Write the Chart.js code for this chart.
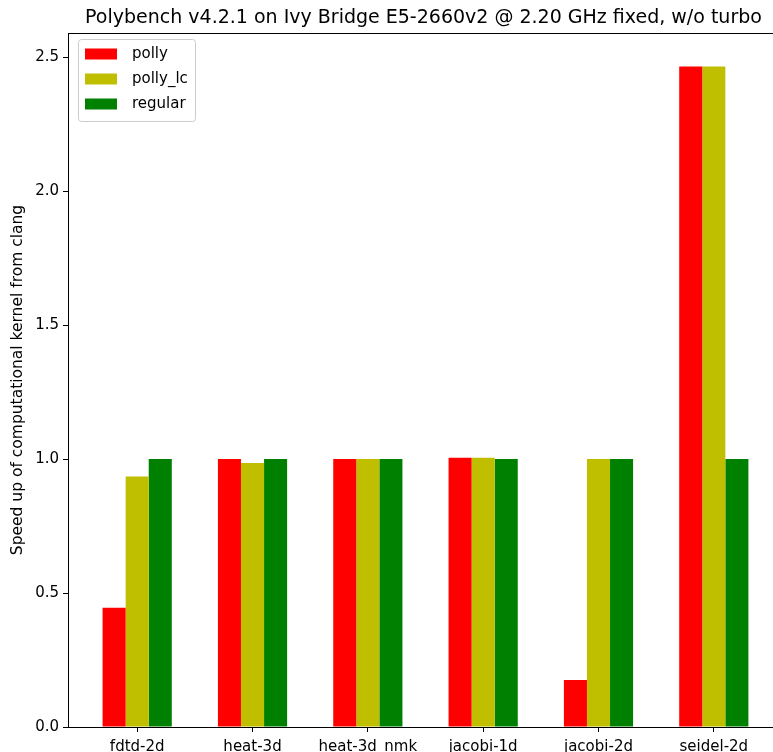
<!DOCTYPE html>
<html>
<head>
<meta charset="utf-8">
<script src="https://cdn.jsdelivr.net/npm/chart.js@4.4.0/dist/chart.umd.min.js"></script>
<style>
  html, body { margin: 0; padding: 0; background: #fff; overflow: hidden; }
  #wrap { width: 773px; height: 752px; overflow: hidden; }
</style>
</head>
<body>
<div id="wrap"><canvas id="speedupChart" width="790" height="770"></canvas></div>
<script>
// Speedup numbers per kernel, relative to plain clang
const titleText = 'Polybench v4.2.1 on Ivy Bridge E5-2660v2 @ 2.20 GHz fixed, w/o turbo';
const kernels = ['fdtd-2d', 'heat-3d', 'heat-3d_nmk', 'jacobi-1d', 'jacobi-2d', 'seidel-2d'];
const pollySpeedup = [0.445, 1.0, 1.0, 1.005, 0.175, 2.465];
const pollyLcSpeedup = [0.935, 0.985, 1.0, 1.005, 1.0, 2.465];
const regularSpeedup = [1.0, 1.0, 1.0, 1.0, 1.0, 1.0];
const yTicks = [0.0, 0.5, 1.0, 1.5, 2.0, 2.5];
const yMax = 2.59;

const FONT = '"DejaVu Sans", sans-serif';

function toPoints(values) {
    return values.map((v, i) => ({ x: i, y: v }));
}

// Title, full frame and the boxed legend inside the plot
const framePlugin = {
    id: 'frame',
    afterDraw(chart) {
        const ctx = chart.ctx;
        const a = chart.chartArea;
        ctx.save();

        ctx.strokeStyle = '#000';
        ctx.lineWidth = 1;
        ctx.strokeRect(Math.round(a.left) + 0.5, Math.round(a.top) + 0.5,
            Math.round(a.right - a.left), Math.round(a.bottom - a.top));

        ctx.fillStyle = '#000';
        ctx.font = '19px ' + FONT;
        ctx.textAlign = 'center';
        ctx.textBaseline = 'middle';
        ctx.fillText(titleText, (a.left + a.right) / 2 - 2, a.top - 15);

        // legend
        const bx = a.left + 10, by = a.top + 6;
        ctx.beginPath();
        ctx.roundRect(bx + 0.5, by + 0.5, 117, 82, 3);
        ctx.fillStyle = 'rgba(255,255,255,0.8)';
        ctx.fill();
        ctx.strokeStyle = '#cccccc';
        ctx.stroke();

        ctx.font = '15px ' + FONT;
        ctx.textAlign = 'left';
        chart.data.datasets.forEach((ds, i) => {
            const cy = a.top + 21 + i * 25;
            ctx.fillStyle = ds.backgroundColor;
            ctx.fillRect(a.left + 17, cy - 5.5, 32, 11);
            ctx.fillStyle = '#000';
            ctx.fillText(ds.label, a.left + 64, cy);
        });

        ctx.restore();
    }
};

new Chart(document.getElementById('speedupChart'), {
    type: 'bar',
    data: {
        datasets: [
            { label: 'polly', data: toPoints(pollySpeedup), backgroundColor: '#ff0000' },
            { label: 'polly_lc', data: toPoints(pollyLcSpeedup), backgroundColor: '#bfbf00' },
            { label: 'regular', data: toPoints(regularSpeedup), backgroundColor: '#008000' }
        ]
    },
    options: {
        responsive: false,
        animation: false,
        devicePixelRatio: 1,
        layout: { padding: { top: 33, right: 7, left: 0, bottom: 0 } },
        datasets: {
            bar: { categoryPercentage: 0.6, barPercentage: 1.0, borderWidth: 0 }
        },
        plugins: {
            legend: { display: false },
            tooltip: { enabled: false }
        },
        scales: {
            x: {
                type: 'linear',
                min: -0.6,
                max: 5.6,
                offset: false,
                afterBuildTicks: scale => {
                    scale.ticks = kernels.map((k, i) => ({ value: i }));
                },
                afterFit: scale => { scale.height = 43; },
                ticks: {
                    color: '#000',
                    font: { family: FONT, size: 15 },
                    padding: 6,
                    maxRotation: 0,
                    autoSkip: false,
                    callback: value => kernels[value]
                },
                grid: { display: true, drawOnChartArea: false, drawTicks: true, tickLength: 5, color: '#000', offset: false },
                border: { color: '#000', width: 1 }
            },
            y: {
                min: 0,
                max: yMax,
                afterBuildTicks: scale => {
                    scale.ticks = yTicks.map(v => ({ value: v }));
                },
                afterFit: scale => { scale.width = 68; },
                ticks: {
                    color: '#000',
                    font: { family: FONT, size: 15 },
                    padding: 4,
                    callback: value => value.toFixed(1)
                },
                grid: { display: true, drawOnChartArea: false, drawTicks: true, tickLength: 5, color: '#000' },
                border: { color: '#000', width: 1 },
                title: {
                    display: true,
                    text: 'Speed up of computational kernel from clang',
                    color: '#000',
                    font: { family: FONT, size: 15.5 },
                    padding: { top: 9, bottom: 0 }
                }
            }
        }
    },
    plugins: [framePlugin]
});
</script>
</body>
</html>
